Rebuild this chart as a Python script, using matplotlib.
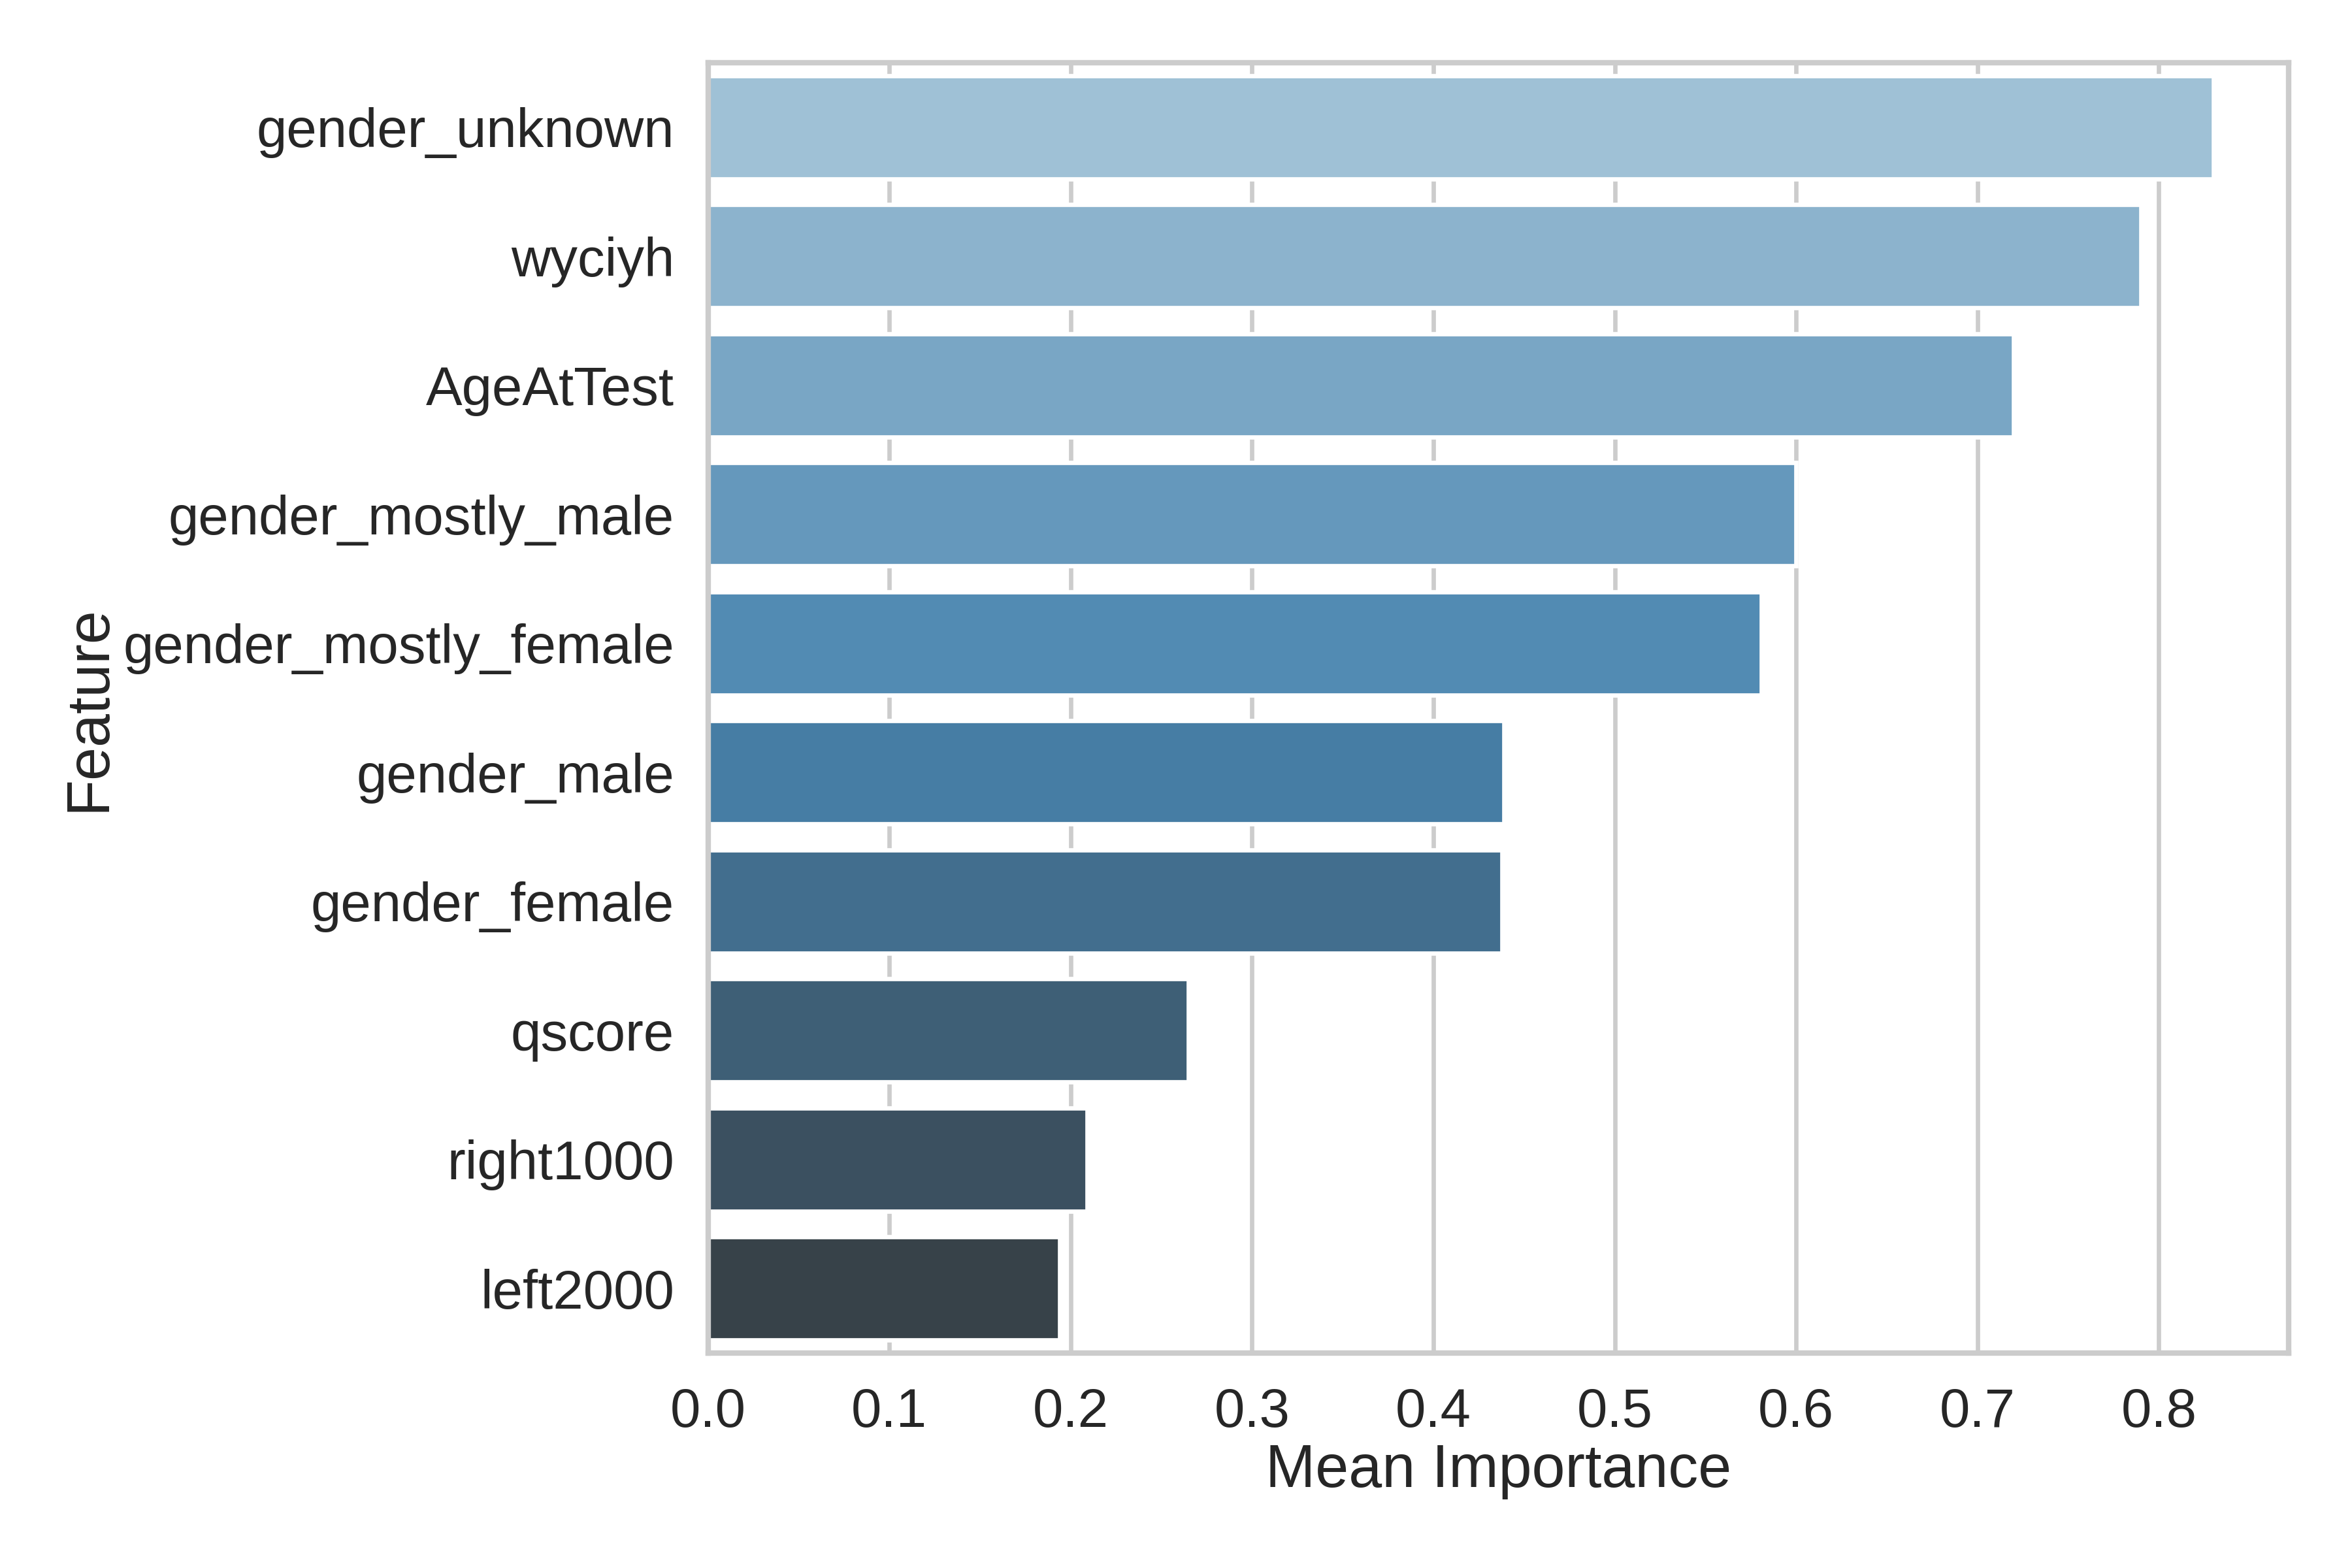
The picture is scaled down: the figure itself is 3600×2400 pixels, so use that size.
import matplotlib
matplotlib.use("Agg")
import matplotlib.pyplot as plt
from matplotlib.ticker import MultipleLocator
import seaborn as sns
import pandas as pd

features = ["gender_unknown", "wyciyh", "AgeAtTest", "gender_mostly_male",
            "gender_mostly_female", "gender_male", "gender_female", "qscore",
            "right1000", "left2000"]
importance = [0.830, 0.790, 0.720, 0.600, 0.581, 0.439, 0.438, 0.265, 0.209, 0.194]

sns.set_theme(style="whitegrid", context="paper")
plt.rcParams['font.family'] = ['Liberation Sans', 'DejaVu Sans']
plt.rcParams.update({
    "xtick.labelsize": 10, "ytick.labelsize": 10, "axes.labelsize": 11,
    "xtick.major.size": 3.5, "ytick.major.size": 3.5,
    "xtick.major.pad": 2.7, "ytick.major.pad": 2.7,
    "axes.labelpad": 1.0,
})

df = pd.DataFrame({"Feature": features, "Mean Importance": importance})

fig, ax = plt.subplots(figsize=(6, 4), dpi=600)
sns.barplot(data=df, x="Mean Importance", y="Feature", hue="Feature",
            palette="Blues_d", legend=False, ax=ax)
ax.xaxis.set_major_locator(MultipleLocator(0.1))
fig.subplots_adjust(left=0.301, right=0.973, top=0.960, bottom=0.137)
plt.savefig("out.png", dpi=600)
